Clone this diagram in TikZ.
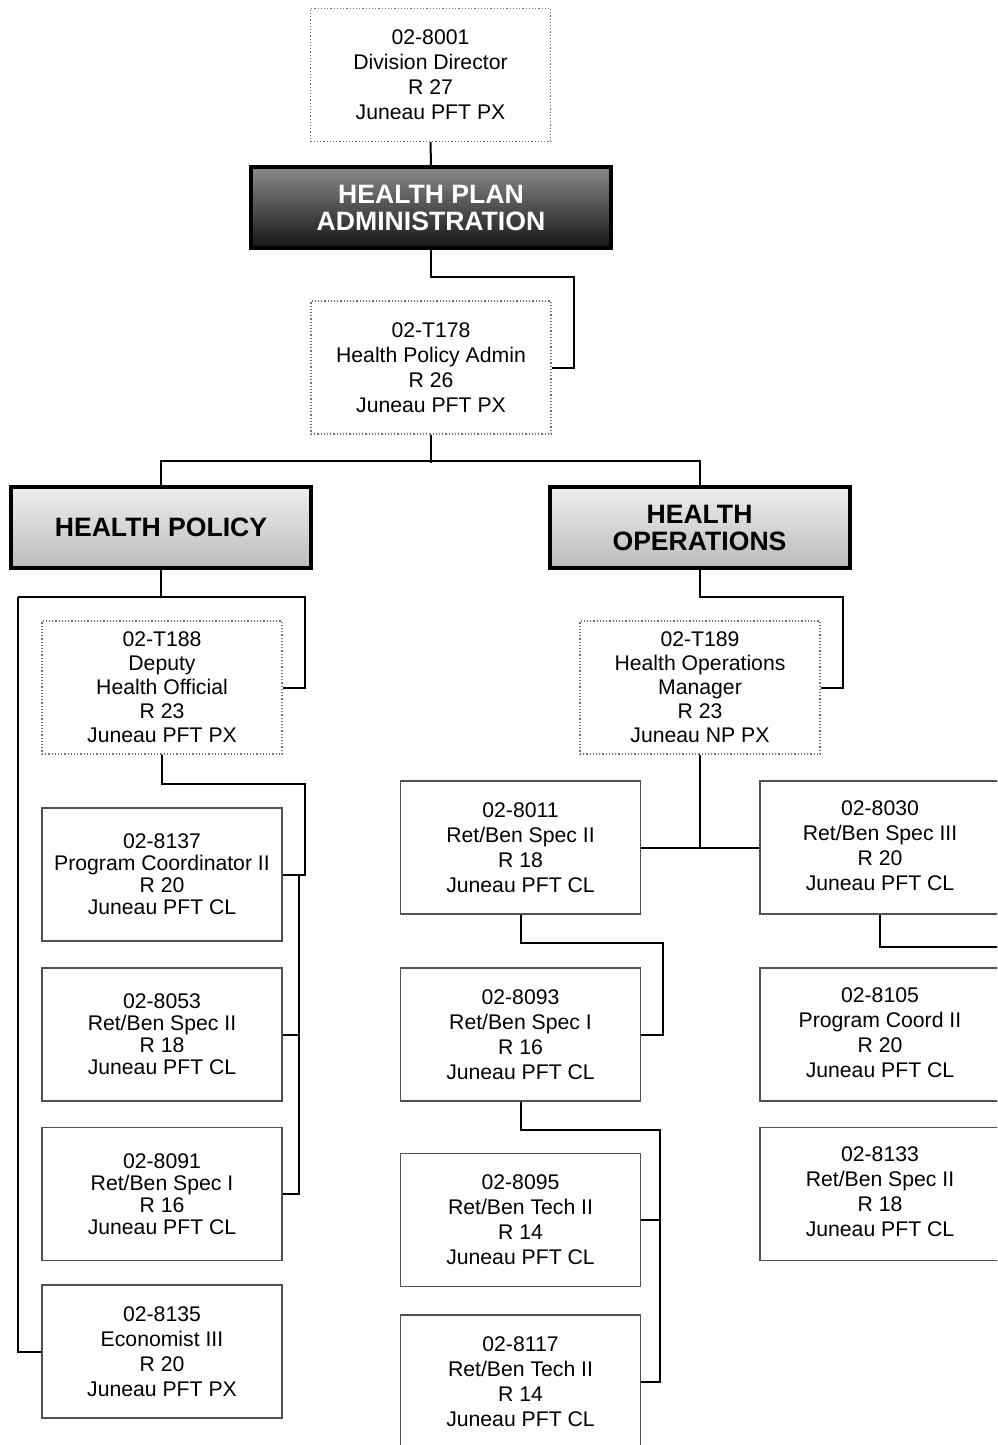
\documentclass[tikz,border=0pt]{standalone}
\usepackage{fontspec}
\setmainfont{Liberation Sans}
\definecolor{boxline}{HTML}{505050}
\definecolor{dotline}{HTML}{707070}
\definecolor{darktop}{HTML}{8A8A8A}
\definecolor{darkbot}{HTML}{151515}
\definecolor{lighttop}{HTML}{EEEEEE}
\definecolor{lightbot}{HTML}{BCBCBC}
\newcommand{\edgetext}[1]{\begin{tabular}{@{}c@{}}#1\end{tabular}\hspace*{10pt}}
\tikzset{
  posbox/.style={draw=boxline, line width=0.6pt, fill=white, rectangle, inner sep=0pt,
    minimum width=120pt, minimum height=66.5pt, align=center,
    font=\fontsize{10.6}{12.5}\selectfont},
  tightbox/.style={posbox, font=\fontsize{10.6}{11}\selectfont},
  vacbox/.style={posbox, draw=dotline, densely dotted},
  edgebox/.style={draw=boxline, line width=0.6pt, fill=white, rectangle, inner sep=0pt,
    minimum width=130pt, minimum height=66.5pt,
    font=\fontsize{10.6}{12.5}\selectfont},
  darkhead/.style={draw=black, line width=2pt, rectangle, inner sep=0pt,
    minimum width=180pt, minimum height=40.5pt, align=center,
    top color=darktop, bottom color=darkbot, text=white,
    font=\fontsize{13.3}{13.5}\selectfont\bfseries},
  lighthead/.style={darkhead, minimum width=150pt, top color=lighttop, bottom color=lightbot, text=black},
  conn/.style={draw=black, line width=1pt}
}
\begin{document}
\begin{tikzpicture}[x=0.5pt,y=-0.5pt]
\useasboundingbox (0,0) rectangle (997,1445);
\clip (0,0) rectangle (997,1445);
\fill[white] (0,0) rectangle (997,1445);

\coordinate (hpaR) at (574,277);
\coordinate (topbus) at (431,463);
\coordinate (hpL) at (18,597);
\coordinate (hpR) at (305,597);
\coordinate (t188R) at (305,784);
\coordinate (lcol) at (299,874);
\coordinate (lmid) at (299,1034.5);
\coordinate (hoR) at (843,597);
\coordinate (t189b) at (700,847.5);
\coordinate (r8011) at (663,943);
\coordinate (r8093) at (660,1130);
\coordinate (r8095) at (660,1220);
\coordinate (r8030) at (1005,947);

% nodes
\node[vacbox] (d8001) at (430.5,75) {02-8001\\Division Director\\R 27\\Juneau PFT PX};
\node[darkhead] (hpa) at (431,207.5) {HEALTH PLAN\\ADMINISTRATION};
\node[vacbox] (t178) at (431,367.5) {02-T178\\Health Policy Admin\\R 26\\Juneau PFT PX};
\node[lighthead] (hp) at (161,527.5) {HEALTH POLICY};
\node[lighthead] (ho) at (699.5,527.5) {HEALTH\\OPERATIONS};

\node[vacbox, font=\fontsize{10.6}{12}\selectfont] (t188) at (162,687.5) {02-T188\\Deputy\\Health Official\\R 23\\Juneau PFT PX};
\node[vacbox, font=\fontsize{10.6}{12}\selectfont] (t189) at (700,687.5) {02-T189\\Health Operations\\Manager\\R 23\\Juneau NP PX};

\node[tightbox] (b8137) at (162,874.5) {02-8137\\Program Coordinator II\\R 20\\Juneau PFT CL};
\node[tightbox] (b8053) at (162,1034.5) {02-8053\\Ret/Ben Spec II\\R 18\\Juneau PFT CL};
\node[tightbox] (b8091) at (162,1194) {02-8091\\Ret/Ben Spec I\\R 16\\Juneau PFT CL};
\node[posbox] (b8135) at (162,1351.5) {02-8135\\Economist III\\R 20\\Juneau PFT PX};

\node[posbox] (b8011) at (520.5,847.5) {02-8011\\Ret/Ben Spec II\\R 18\\Juneau PFT CL};
\node[posbox] (b8093) at (520.5,1034.5) {02-8093\\Ret/Ben Spec I\\R 16\\Juneau PFT CL};
\node[posbox] (b8095) at (520.5,1220) {02-8095\\Ret/Ben Tech II\\R 14\\Juneau PFT CL};
\node[posbox] (b8117) at (520.5,1381.5) {02-8117\\Ret/Ben Tech II\\R 14\\Juneau PFT CL};

\node[edgebox] (b8030) at (890,847.5) {\edgetext{02-8030\\Ret/Ben Spec III\\R 20\\Juneau PFT CL}};
\node[edgebox] (b8105) at (890,1034.5) {\edgetext{02-8105\\Program Coord II\\R 20\\Juneau PFT CL}};
\node[edgebox] (b8133) at (890,1194) {\edgetext{02-8133\\Ret/Ben Spec II\\R 18\\Juneau PFT CL}};

% connector lines
\draw[conn] (d8001.south) -- (hpa.north);
\draw[conn] (hpa.south) |- (hpaR) |- (t178.east);
\draw[conn] (t178.south) -- (topbus);
\draw[conn] (hp.north) -- ++(0,-24) -| (ho.north);
\draw[conn] (hp.south) -- (hp.south |- hpL);
\draw[conn] (hpL) -- (hpR) |- (t188.east);
\draw[conn] (hpL) |- (b8135.west);
\draw[conn] (t188.south) |- (t188R) |- (b8137.east);
\draw[conn] (lcol) |- (b8091.east);
\draw[conn] (lmid) -- (b8053.east);
\draw[conn] (ho.south) |- (hoR) |- (t189.east);
\draw[conn] (t189.south) -- (t189b);
\draw[conn] (b8011.east) -- (b8030.west);
\draw[conn] (b8011.south) |- (r8011) |- (b8093.east);
\draw[conn] (b8093.south) |- (r8093) |- (b8117.east);
\draw[conn] (r8095) -- (b8095.east);
\draw[conn] ([xshift=-5pt]b8030.south) |- (r8030);
\end{tikzpicture}
\end{document}
